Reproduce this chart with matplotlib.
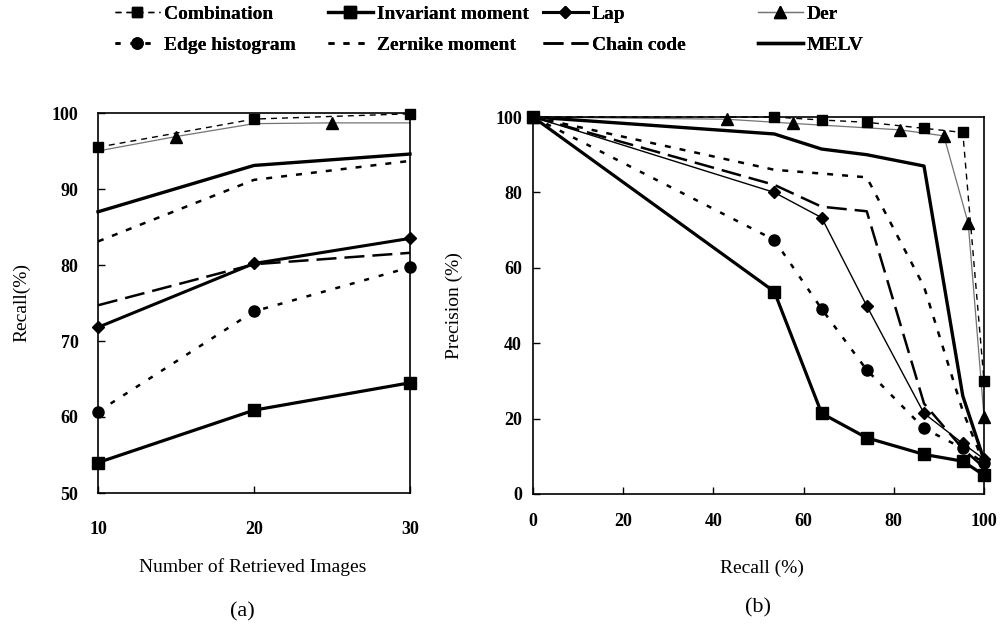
import matplotlib
matplotlib.use("Agg")
import matplotlib.pyplot as plt
from matplotlib.lines import Line2D

plt.rcParams['font.family'] = ['Liberation Serif', 'DejaVu Serif']

# (a) recall vs number of retrieved images
n_images = [10, 20, 30]
combination_a = [95.5, 99.2, 99.9]
invariant_a = [54.0, 60.9, 64.5]
lap_a = [71.8, 80.2, 83.5]
edge_a = [60.7, 73.9, 79.7]
zernike_a = [83.1, 91.2, 93.7]
chain_a = [74.7, 80.1, 81.6]
melv_a = [87.0, 93.1, 94.6]
der_x_a = [10, 15, 20, 25, 30]
der_a = [95.0, 96.9, 98.6, 98.7, 98.7]

# (b) precision vs recall
recall_b = [0, 53.5, 64, 74, 86.7, 95.3, 100]
combination_b = [100, 100, 99.2, 98.6, 97.0, 95.9, 30.0]
invariant_b = [100, 53.7, 21.4, 14.9, 10.5, 8.7, 5.0]
lap_b = [100, 80.0, 73.3, 49.9, 21.4, 13.4, 9.3]
edge_b = [100, 67.4, 49.1, 32.9, 17.4, 12.1, 8.2]
zernike_b = [100, 86.0, 85.0, 84.0, 55.0, 22.0, 8.0]
chain_b = [100, 82.0, 76.2, 75.0, 24.0, 12.0, 7.0]
melv_b = [100, 95.5, 91.5, 90.0, 87.0, 26.0, 9.0]
der_x_b = [0, 43.0, 57.6, 81.3, 91.1, 96.5, 100]
der_b = [100, 99.4, 98.3, 96.6, 95.0, 71.8, 20.5]

styles = {
    'Combination': dict(color='k', ls=(0, (4.3, 3.6)), lw=1.0, marker='s', ms=7),
    'Invariant moment': dict(color='k', ls='-', lw=2.3, marker='s', ms=8),
    'Lap': dict(color='k', ls='-', lw=2.2, marker='D', ms=6),
    'Der': dict(color='0.45', ls='-', lw=0.9, marker='^', ms=8, mfc='k', mec='k'),
    'Edge histogram': dict(color='k', ls=(0, (2, 4)), lw=1.8, marker='o', ms=8),
    'Zernike moment': dict(color='k', ls=(0, (2.4, 3.6)), lw=1.8),
    'Chain code': dict(color='k', ls=(0, (8, 3.2)), lw=1.8),
    'MELV': dict(color='k', ls='-', lw=2.4),
}

fig = plt.figure(figsize=(10.02, 6.3), dpi=100)
ax1 = fig.add_axes([98/1002, 1-493/630, 312/1002, 380/630])
ax2 = fig.add_axes([533/1002, 1-494/630, 451/1002, 377/630])

ax1.plot(n_images, zernike_a, clip_on=False, **styles['Zernike moment'])
ax1.plot(n_images, chain_a, clip_on=False, **styles['Chain code'])
ax1.plot(n_images, melv_a, clip_on=False, **styles['MELV'])
ax1.plot(n_images, edge_a, clip_on=False, **styles['Edge histogram'])
ax1.plot(n_images, lap_a, clip_on=False, **styles['Lap'])
ax1.plot(n_images, invariant_a, clip_on=False, **styles['Invariant moment'])
ax1.plot(der_x_a, der_a, clip_on=False, markevery=[1, 3], **styles['Der'])
ax1.plot(n_images, combination_a, clip_on=False, **styles['Combination'])

ax2.plot(recall_b, zernike_b, clip_on=False, **styles['Zernike moment'])
ax2.plot(recall_b, chain_b, clip_on=False, **styles['Chain code'])
ax2.plot(recall_b, melv_b, clip_on=False, **styles['MELV'])
ax2.plot(recall_b, edge_b, clip_on=False, **styles['Edge histogram'])
ax2.plot(recall_b, lap_b, clip_on=False, **dict(styles['Lap'], lw=1.0))
ax2.plot(recall_b, invariant_b, clip_on=False, **styles['Invariant moment'])
ax2.plot(der_x_b, der_b, clip_on=False, **styles['Der'])
ax2.plot(recall_b, combination_b, clip_on=False, **styles['Combination'])

ax1.set_xlim(10, 30)
ax1.set_ylim(50, 100)
ax1.set_xticks([10, 20, 30])
ax1.set_yticks(range(50, 101, 10))
ax2.set_xlim(0, 100)
ax2.set_ylim(0, 100)
ax2.set_xticks(range(0, 101, 20))
ax2.set_yticks(range(0, 101, 20))

for ax in (ax1, ax2):
    for s in ax.spines.values():
        s.set_linewidth(1.2)
    ax.tick_params(direction='in', length=5, width=1.0, labelsize=13)
    for lab in ax.get_xticklabels() + ax.get_yticklabels():
        lab.set_fontweight('bold')

ax1.tick_params(axis='x', pad=20)
ax1.tick_params(axis='y', pad=14)
ax2.tick_params(axis='x', pad=14)
ax2.tick_params(axis='y', pad=8)

ax1.set_xlabel('Number of Retrieved Images', fontsize=14)
ax1.set_ylabel('Recall(%)', fontsize=14)
ax1.xaxis.set_label_coords(0.495, -0.172)
ax1.yaxis.set_label_coords(-0.218, 0.5)
ax2.set_xlabel('Recall (%)', fontsize=14)
ax2.set_ylabel('Precision (%)', fontsize=14)
ax2.xaxis.set_label_coords(0.508, -0.173)
ax2.yaxis.set_label_coords(-0.155, 0.5)

fig.text(242/1002, 1-612/630, '(a)', fontsize=16, ha='center', va='center')
fig.text(758/1002, 1-608/630, '(b)', fontsize=16, ha='center', va='center')

# legend: four columns of two entries each
columns = [['Combination', 'Edge histogram'],
           ['Invariant moment', 'Zernike moment'],
           ['Lap', 'Chain code'],
           ['Der', 'MELV']]
col_x = [115, 328, 543, 758]
for names, x in zip(columns, col_x):
    handles = [Line2D([], [], **styles[n]) for n in names]
    leg = fig.legend(handles, names, loc='upper left',
                     bbox_to_anchor=(x/1002, 1-5/630), frameon=False,
                     borderpad=0, borderaxespad=0, handlelength=2.3,
                     handletextpad=0.2, labelspacing=0.7,
                     prop=dict(family='Liberation Serif', weight='bold', size=14))
    fig.add_artist(leg)

fig.savefig('out.png', dpi=100)
